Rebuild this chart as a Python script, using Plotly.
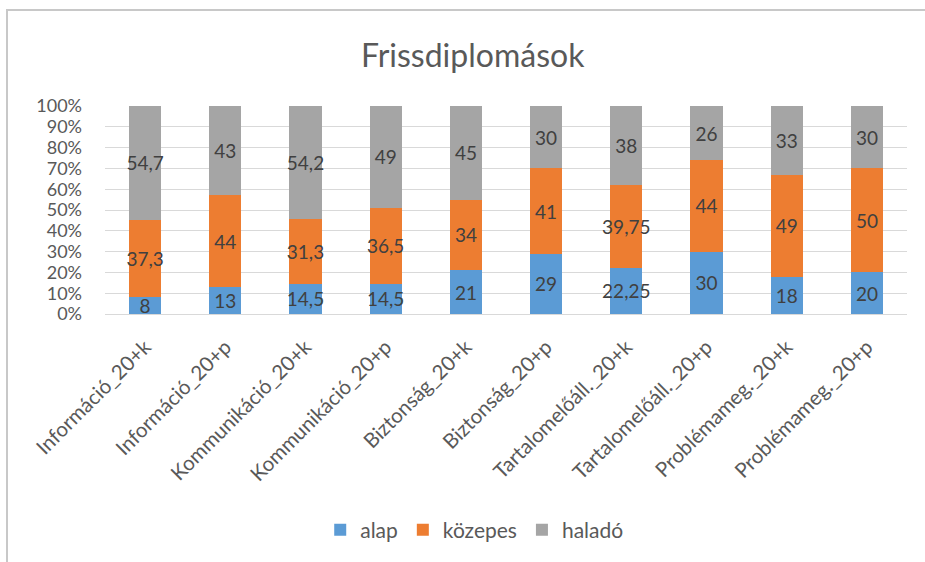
import plotly.graph_objects as go

categories = ["Információ_20+k", "Információ_20+p", "Kommunikáció_20+k", "Kommunikáció_20+p",
              "Biztonság_20+k", "Biztonság_20+p", "Tartalomelőáll._20+k", "Tartalomelőáll._20+p",
              "Problémameg._20+k", "Problémameg._20+p"]
alap = [8, 13, 14.5, 14.5, 21, 29, 22.25, 30, 18, 20]
kozepes = [37.3, 44, 31.3, 36.5, 34, 41, 39.75, 44, 49, 50]
halado = [54.7, 43, 54.2, 49, 45, 30, 38, 26, 33, 30]
series_names = ["alap", "közepes", "haladó"]
colors = ["#5B9BD5", "#ED7D31", "#A5A5A5"]
y_ticks = [0, 10, 20, 30, 40, 50, 60, 70, 80, 90, 100]

def fmt(v):
    return ("%g" % v).replace(".", ",")

FONT = "Lato"
fig = go.Figure()
for name, vals, col in zip(series_names, [alap, kozepes, halado], colors):
    fig.add_trace(go.Bar(
        x=categories, y=vals, name=name,
        marker=dict(color=col, line=dict(width=0)),
        text=[fmt(v) for v in vals],
        textposition="inside", insidetextanchor="middle", textangle=0,
        textfont=dict(color="#404040", size=19, family=FONT),
        constraintext="none", cliponaxis=False,
    ))

fig.update_layout(
    barmode="stack", barnorm="percent", bargap=0.6,
    width=925, height=562,
    margin=dict(l=105, r=18, t=106, b=248),
    paper_bgcolor="white", plot_bgcolor="white",
    uniformtext=dict(minsize=19, mode="show"),
    title=dict(text="Frissdiplomások", x=0.511, xref="container", xanchor="center",
               y=1 - 56 / 562, yref="container", yanchor="middle",
               font=dict(size=32, color="#595959", family=FONT)),
    xaxis=dict(tickangle=-45, tickfont=dict(size=20.5, color="#595959", family=FONT),
               showline=True, linecolor="#D9D9D9", ticks="", showgrid=False,
               ticklabelstandoff=12),
    yaxis=dict(range=[0, 100], tickvals=y_ticks, ticktext=[f"{t}%" for t in y_ticks],
               tickfont=dict(size=18, color="#595959", family=FONT),
               showgrid=True, gridcolor="#D9D9D9", gridwidth=1, zeroline=False,
               ticklabelstandoff=22),
    legend=dict(orientation="h", x=0.461, xanchor="center", y=(314 - 530) / 208, yanchor="middle",
                font=dict(size=21, color="#595959", family=FONT), traceorder="normal",
                itemwidth=30),
    showlegend=True,
)
fig.add_shape(type="rect", xref="paper", yref="paper",
              x0=(7 - 105) / 802, x1=(935 - 105) / 802,
              y0=(314 - 580) / 208, y1=(314 - 10) / 208,
              line=dict(color="#C8C8C8", width=2), layer="below")
fig.write_html("out.html", config={"displayModeBar": False},
               post_script="document.body.style.margin='0';")
